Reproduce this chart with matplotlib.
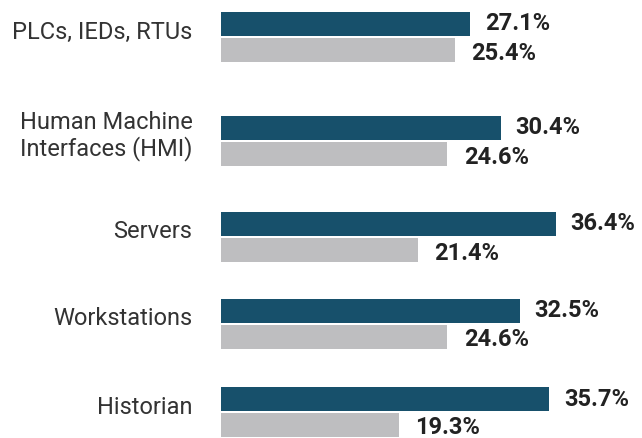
import matplotlib
matplotlib.use("Agg")
import matplotlib.pyplot as plt

categories = ["PLCs, IEDs, RTUs", "Human Machine\nInterfaces (HMI)", "Servers", "Workstations", "Historian"]
dark_vals = [27.1, 30.4, 36.4, 32.5, 35.7]
gray_vals = [25.4, 24.6, 21.4, 24.6, 19.3]

# layout: pixel row where each dark/gray pair meets (axes uses pixel units on y)
split_y = [37, 141, 237, 323.5, 412]
bar_h = 24
gap = 1

dark = "#17506b"
gray = "#bebec0"
txt = "#222222"

plt.rcParams["font.family"] = ["Roboto", "DejaVu Sans"]

fig = plt.figure(figsize=(6.42, 4.38), dpi=100)
ax = fig.add_axes([221 / 642, 0, 421 / 642, 1])
ax.set_ylim(438, 0)
ax.set_xlim(0, 421 / 9.2)

dark_y = [s - gap - bar_h / 2 for s in split_y]
gray_y = [s + gap + bar_h / 2 for s in split_y]
ax.barh(dark_y, dark_vals, height=bar_h, color=dark)
ax.barh(gray_y, gray_vals, height=bar_h, color=gray)

for y, v in zip(dark_y, dark_vals):
    ax.text(v + 1.6, y, f"{v:.1f}%", va="center", ha="left", fontsize=17,
            fontweight="bold", color=txt)
for y, v in zip(gray_y, gray_vals):
    ax.text(v + 1.8, y + 3, f"{v:.1f}%", va="center", ha="left", fontsize=17,
            fontweight="bold", color=txt)

for s, c in zip(split_y, categories):
    ax.text(-3.1, s - 5, c, va="center", ha="right", fontsize=17,
            fontweight="normal", color="#333333", linespacing=1.1)

ax.axis("off")
fig.savefig("out.png", dpi=100)
